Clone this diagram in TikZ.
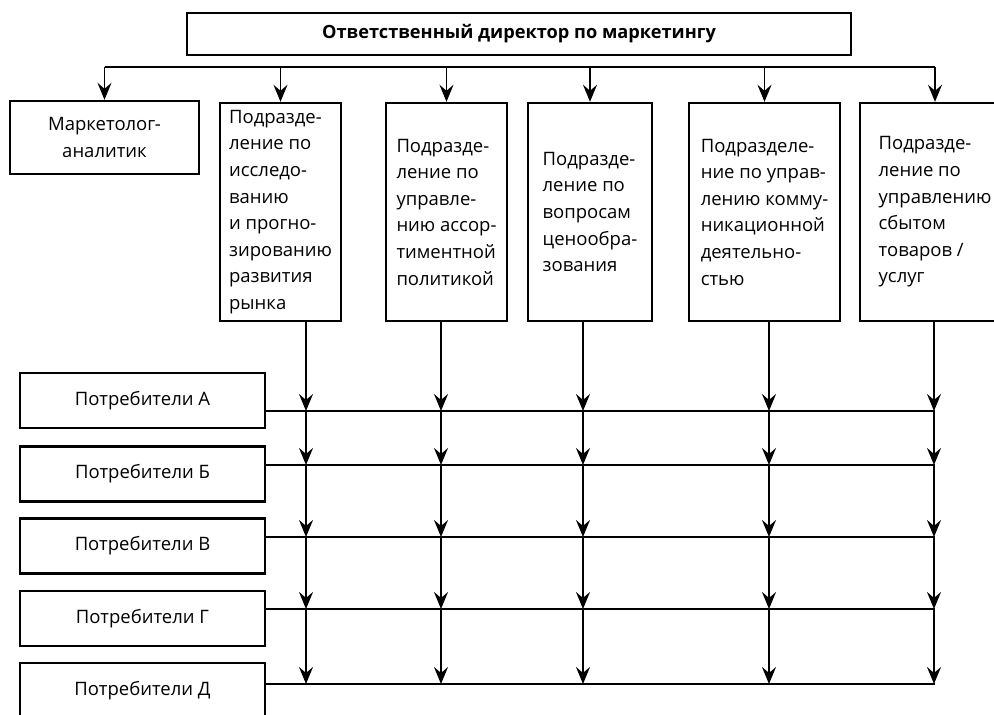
\documentclass[tikz,border=0pt]{standalone}
\usepackage{fontspec}
\setmainfont{Open Sans}
\usetikzlibrary{arrows.meta}

\begin{document}
\begin{tikzpicture}[x=1pt, y=-1pt, font=\fontsize{18.5}{26.6}\selectfont]
                \tikzset{ block/.style={rectangle,draw,line width=2.4pt,inner sep=0pt,align=center},
                        dept/.style={block,minimum height=218pt,align=left},
                        cons/.style={block,minimum width=245pt,minimum height=55pt},
                        arrow/.style={-{Stealth[length=17pt,width=14pt,inset=6pt]}, line width=1.8pt},
                        link/.style={line width=1.8pt}}
                \useasboundingbox (0,0) rectangle (994,715);

                \node[block, minimum width=664pt, minimum height=42pt, font=\fontsize{18.2}{20}\selectfont\bfseries] (head) at (519,34) {Ответственный директор по маркетингу};

                \node[block, minimum width=189pt, minimum height=73pt] (d1) at (104.5,137.5) {Маркетолог-\\аналитик};
                \node[dept, minimum width=121pt] (d2) at (280.5,212) {Подразде-\\ление по\\исследо-\\ванию\\и прогно-\\зированию\\развития\\рынка};
                \node[dept, minimum width=121pt] (d3) at (446.5,212) {Подразде-\\ление по\\управле-\\нию ассор-\\тиментной\\политикой};
                \node[dept, minimum width=124pt] (d4) at (590,212) {Подразде-\\ление по\\вопросам\\ценообра-\\зования};
                \node[dept, minimum width=151pt] (d5) at (764.5,212) {Подразделе-\\ние по управ-\\лению комму-\\никационной\\деятельно-\\стью};
                \node[dept, minimum width=150pt] (d6) at (935,212) {Подразде-\\ление по\\управлению\\сбытом\\товаров /\\услуг};

                \node[cons] (cA) at (142.5,400.5) {Потребители А};
                \node[cons] (cB) at (142.5,474) {Потребители Б};
                \node[cons] (cC) at (142.5,546) {Потребители В};
                \node[cons] (cD) at (142.5,618.5) {Потребители Г};
                \node[cons] (cE) at (142.5,690.5) {Потребители Д};

                % шина и стрелки к подразделениям
                \coordinate (bus) at (0,67);
                \draw[link] (d1.north |- bus) -- (d6.north |- bus);
                \foreach \d in {d1,d2,d3,d4,d5,d6}
                    \draw[arrow] (\d.north |- bus) -- (\d.north);

                % линии потребителей
                \coordinate (rA) at (935,411);
                \coordinate (rB) at (935,465);
                \coordinate (rC) at (935,537);
                \coordinate (rD) at (935,609);
                \coordinate (rE) at (935,684);
                \foreach \c/\r in {cA/rA, cB/rB, cC/rC, cD/rD, cE/rE}
                    \draw[link] (\c.east |- \r) -- (\r);

                % вертикали
                \coordinate (xd2) at (306,0);
                \coordinate (xd3) at (441,0);
                \coordinate (xd4) at (583,0);
                \coordinate (xd5) at (769,0);
                \coordinate (xd6) at (934,0);
                \foreach \d in {d2,d3,d4,d5,d6}{
                    \draw[arrow] (\d.south -| x\d) -- (x\d |- rA);
                    \foreach \p/\q in {rA/rB, rB/rC, rC/rD, rD/rE}
                        \draw[arrow] (x\d |- \p) -- (x\d |- \q);
                }
\end{tikzpicture}
\end{document}
